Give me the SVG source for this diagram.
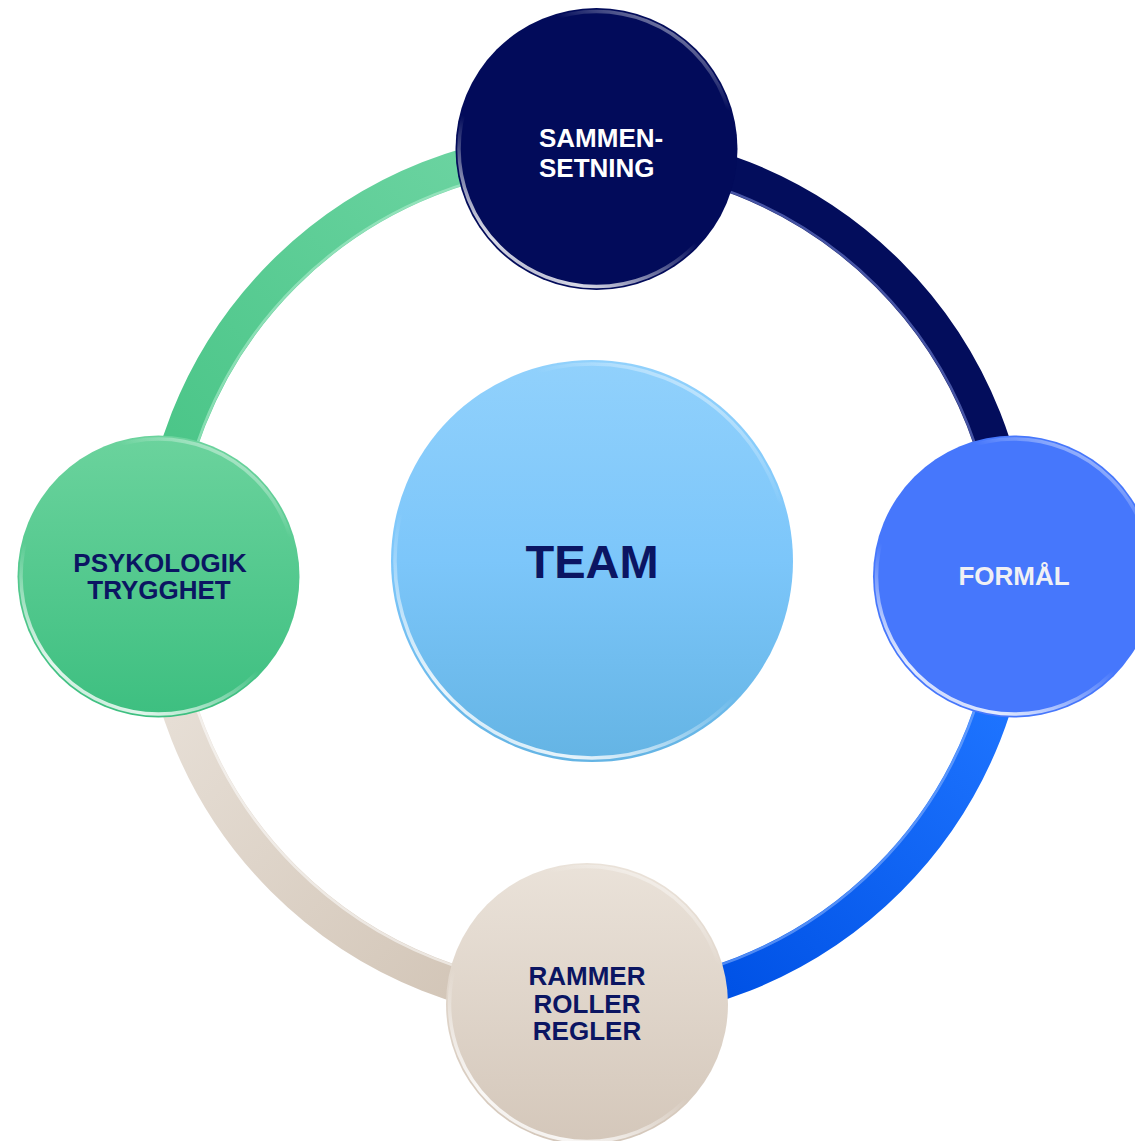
<svg xmlns="http://www.w3.org/2000/svg" width="1135" height="1141" viewBox="0 0 1135 1141">
  <defs>
    <linearGradient id="gGreen" x1="0" y1="0" x2="0" y2="1">
      <stop offset="0" stop-color="#6bd39d"/>
      <stop offset="1" stop-color="#3dbf80"/>
    </linearGradient>
    <linearGradient id="gBeige" x1="0" y1="0" x2="0" y2="1">
      <stop offset="0" stop-color="#eae2d9"/>
      <stop offset="1" stop-color="#d4c7ba"/>
    </linearGradient>
    <linearGradient id="gCenter" x1="0" y1="0" x2="0" y2="1">
      <stop offset="0" stop-color="#91d1fc"/>
      <stop offset="0.5" stop-color="#7cc6fa"/>
      <stop offset="1" stop-color="#64b4e4"/>
    </linearGradient>
    <linearGradient id="gBlueArc" gradientUnits="userSpaceOnUse" x1="1000" y1="700" x2="720" y2="980">
      <stop offset="0" stop-color="#1e74ff"/>
      <stop offset="1" stop-color="#0052e6"/>
    </linearGradient>
    <linearGradient id="gGreenArc" gradientUnits="userSpaceOnUse" x1="460" y1="160" x2="180" y2="440">
      <stop offset="0" stop-color="#6ad3a0"/>
      <stop offset="1" stop-color="#4cc689"/>
    </linearGradient>
    <linearGradient id="gBeigeArc" gradientUnits="userSpaceOnUse" x1="180" y1="710" x2="460" y2="990">
      <stop offset="0" stop-color="#e6ded5"/>
      <stop offset="1" stop-color="#d3c6b8"/>
    </linearGradient>
    <linearGradient id="rim" x1="0.75" y1="0" x2="0.2" y2="1">
      <stop offset="0" stop-color="#ffffff" stop-opacity="0.55"/>
      <stop offset="0.18" stop-color="#ffffff" stop-opacity="0"/>
      <stop offset="0.6" stop-color="#ffffff" stop-opacity="0"/>
      <stop offset="0.9" stop-color="#ffffff" stop-opacity="0.85"/>
      <stop offset="1" stop-color="#ffffff" stop-opacity="0.5"/>
    </linearGradient>
  </defs>
  <style>
    .arc { fill: none; stroke-width: 36; stroke-linecap: butt; }
    .arcHi { fill: none; stroke-width: 2.5; stroke-opacity: 0.55; }
    .rim { fill: none; stroke: url(#rim); stroke-width: 3.5; }
    .lbl { font-family: "Liberation Sans", Arial, sans-serif; font-weight: bold; font-size: 26px; }
    .navy { fill: #0b1562; }
  </style>

  <rect width="1135" height="1141" fill="#ffffff"/>

  <g id="connectors">
    <path class="arc" d="M 158.5 576.5 A 427.5 427.5 0 0 1 586 149" stroke="url(#gGreenArc)"/>
    <path class="arc" d="M 586 149 A 427.5 427.5 0 0 1 1013.5 576.5" stroke="#030d5c"/>
    <path class="arc" d="M 1013.5 576.5 A 427.5 427.5 0 0 1 586 1004" stroke="url(#gBlueArc)"/>
    <path class="arc" d="M 586 1004 A 427.5 427.5 0 0 1 158.5 576.5" stroke="url(#gBeigeArc)"/>
    <path class="arcHi" d="M 175 576.5 A 411 411 0 0 1 586 165.5" stroke="#b8f0d4"/>
    <path class="arcHi" d="M 586 165.5 A 411 411 0 0 1 997 576.5" stroke="#7d8fe0"/>
    <path class="arcHi" d="M 997 576.5 A 411 411 0 0 1 586 987.5" stroke="#8fb8ff"/>
    <path class="arcHi" d="M 586 987.5 A 411 411 0 0 1 175 576.5" stroke="#ffffff"/>
  </g>

  <g id="node-team">
    <circle cx="592" cy="561" r="201" fill="url(#gCenter)"/>
    <circle class="rim" cx="592" cy="561" r="197"/>
    <text class="lbl navy" x="592" y="578" text-anchor="middle" style="font-size:47px">TEAM</text>
  </g>

  <g id="node-sammensetning">
    <circle cx="596.5" cy="149" r="141" fill="#020b5a"/>
    <circle class="rim" cx="596.5" cy="149" r="137.5"/>
    <text class="lbl" fill="#ffffff" x="539" y="147">SAMMEN-</text>
    <text class="lbl" fill="#ffffff" x="539" y="177">SETNING</text>
  </g>

  <g id="node-formal">
    <circle cx="1014" cy="576.5" r="141" fill="#4677fc"/>
    <circle class="rim" cx="1014" cy="576.5" r="137.5"/>
    <text class="lbl" fill="#f0f0f4" x="1014" y="585" text-anchor="middle">FORMÅL</text>
  </g>

  <g id="node-rammer">
    <circle cx="587" cy="1004" r="141" fill="url(#gBeige)"/>
    <circle class="rim" cx="587" cy="1004" r="137.5"/>
    <text class="lbl navy" x="587" y="985" text-anchor="middle">RAMMER</text>
    <text class="lbl navy" x="587" y="1013" text-anchor="middle">ROLLER</text>
    <text class="lbl navy" x="587" y="1040" text-anchor="middle">REGLER</text>
  </g>

  <g id="node-psykologik">
    <circle cx="158.5" cy="576.5" r="141" fill="url(#gGreen)"/>
    <circle class="rim" cx="158.5" cy="576.5" r="137.5"/>
    <text class="lbl navy" x="160" y="572" text-anchor="middle">PSYKOLOGIK</text>
    <text class="lbl navy" x="159" y="599" text-anchor="middle">TRYGGHET</text>
  </g>
</svg>
